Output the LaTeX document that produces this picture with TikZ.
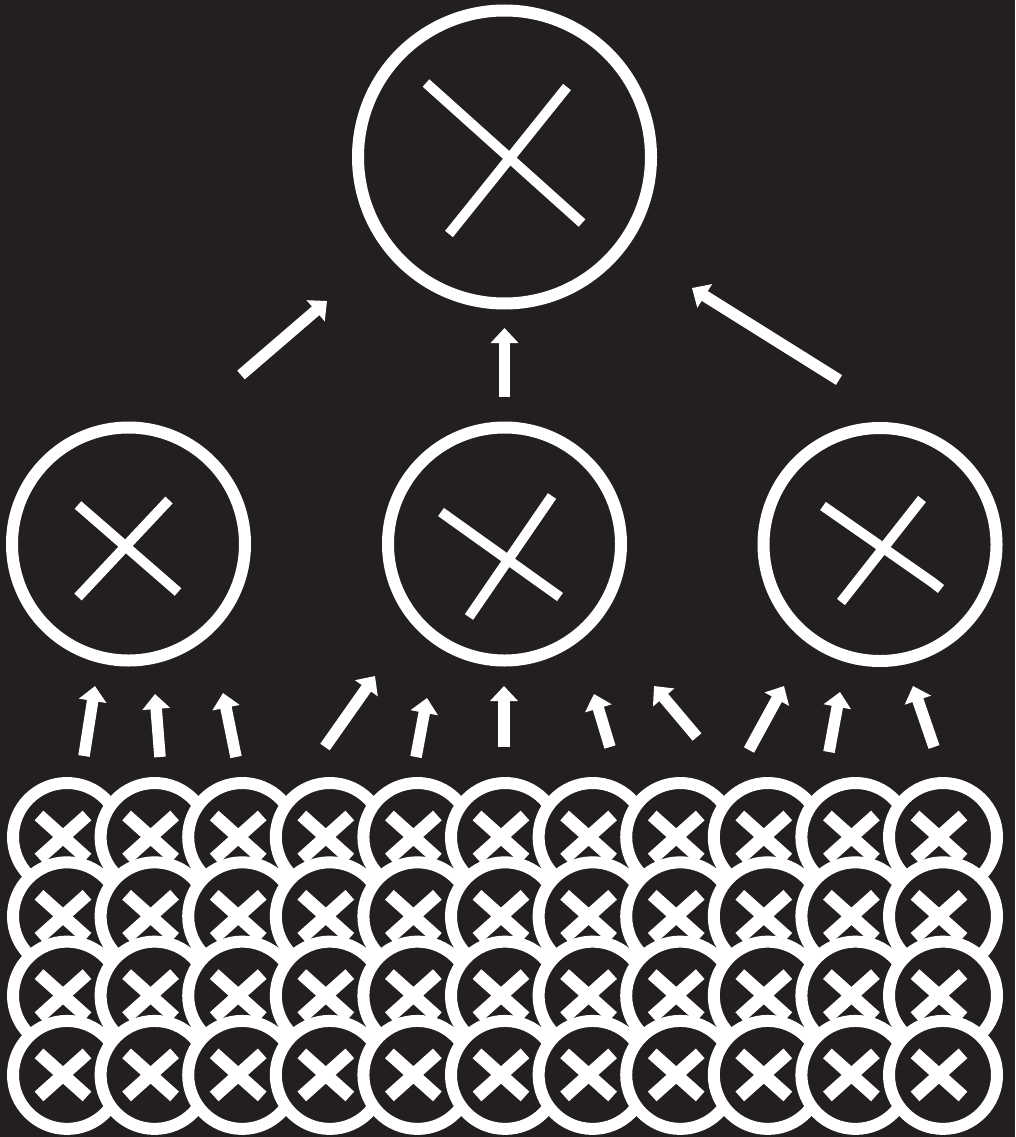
\documentclass[tikz,border=0pt]{standalone}
\usepackage{xcolor}
\usepackage{tikz}
\usetikzlibrary{arrows.meta}
\definecolor{Ink}{HTML}{231F20}

\begin{document}
\begin{tikzpicture}[x=1pt,y=-1pt,
  topunit/.style={circle,draw=white,fill=Ink,line width=12pt,inner sep=0pt,minimum size=293pt},
  unit/.style={circle,draw=white,fill=Ink,line width=12pt,inner sep=0pt,minimum size=233pt},
  token/.style={circle,draw=white,fill=Ink,line width=12pt,inner sep=0pt,minimum size=108pt,
    path picture={\draw[white,line width=13pt]
      ([shift={(-28pt,21.5pt)}]path picture bounding box.center) -- ([shift={(20pt,-21.5pt)}]path picture bounding box.center)
      ([shift={(20pt,21.5pt)}]path picture bounding box.center) -- ([shift={(-28pt,-21.5pt)}]path picture bounding box.center);}},
  cross/.style={draw=white,line width=10pt},
  flow/.style={-{Triangle[width=27pt,length=15pt]},draw=white,line width=11.5pt}
]
  \fill[Ink] (0,0) rectangle (1015,1137);
  \useasboundingbox (0,0) rectangle (1015,1137);

  \node[topunit] (top) at (504.5,157) {};
  \node[unit] (left) at (128.5,544) {};
  \node[unit] (middle) at (504.5,544) {};
  \node[unit] (right) at (880,544.5) {};

  \draw[cross] (426,83) -- (582,223) (567,87) -- (449,234);
  \draw[cross] (78,505) -- (178,592) (169,500) -- (78,597);
  \draw[cross] (441,512) -- (560,597) (552,496) -- (469,617);
  \draw[cross] (823,506) -- (932,582) -- (941,589) (922,499) -- (841,602);

  % grid of small units, later ones on top
  \foreach \r in {0,...,3}
    \foreach \c in {0,...,10}
      \node[token] (b-\r-\c) at ({67+87.6*\c},{837+79.3*\r}) {};

  \coordinate (lt) at (241,375);   \coordinate (lh) at (327,301);
  \coordinate (mt) at (504.5,397); \coordinate (mh) at (504.5,328);
  \coordinate (rt) at (839,380);   \coordinate (rh) at (692,288);
  \draw[flow] (lt) -- (lh);
  \draw[flow] (mt) -- (mh);
  \draw[flow] (rt) -- (rh);

  \foreach \i/\tx/\ty/\hx/\hy in {1/84/756/95/686, 2/160/757/155/694, 3/236/757/223/693,
      4/325/747/375/676, 5/416/757/427/698, 6/504/747/504/686, 7/610/747/594/694,
      8/697/737/654/686, 9/749/750/784/686, 10/829/752/840/692, 11/934/747/913/686} {
    \coordinate (t\i) at (\tx,\ty);
    \coordinate (h\i) at (\hx,\hy);
    \draw[flow] (t\i) -- (h\i);
  }
\end{tikzpicture}
\end{document}
